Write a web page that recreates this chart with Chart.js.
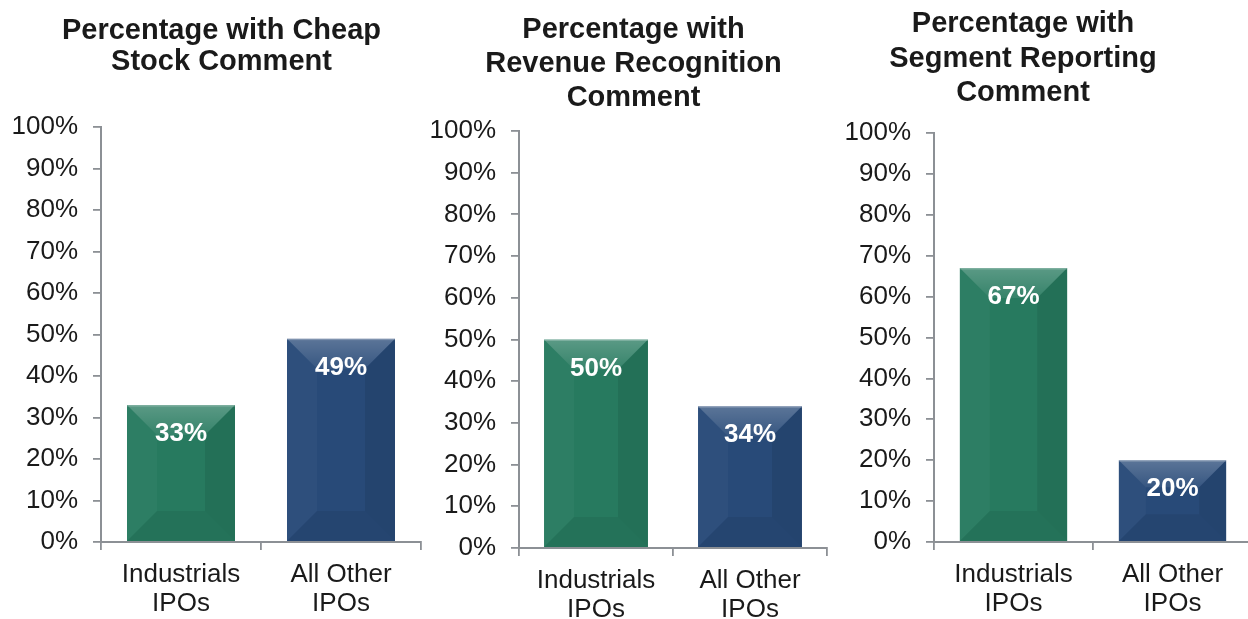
<!DOCTYPE html>
<html>
<head>
<meta charset="utf-8">
<script src="https://cdn.jsdelivr.net/npm/chart.js@4.4.1/dist/chart.umd.min.js"></script>
<style>
  html, body { margin: 0; padding: 0; background: #fff; }
  #wrap { position: relative; width: 1248px; height: 619px; overflow: hidden; background: #fff; }
  #wrap canvas { position: absolute; top: 0; }
</style>
</head>
<body>
<div id="wrap">
  <canvas id="cheap" width="443" height="619" style="left:0px"></canvas>
  <canvas id="revenue" width="427" height="619" style="left:420px"></canvas>
  <canvas id="segment" width="474" height="619" style="left:786px"></canvas>
</div>
<script>
// data
const categories = [["Industrials", "IPOs"], ["All Other", "IPOs"]];
const cheapStock = [33, 49];
const revenueRecognition = [50, 34];
const segmentReporting = [67, 20];
const cheapTitle = ["Percentage with Cheap", "Stock Comment"];
const revenueTitle = ["Percentage with", "Revenue Recognition", "Comment"];
const segmentTitle = ["Percentage with", "Segment Reporting", "Comment"];
const yMin = 0, yMax = 100, yStep = 10;

const barColors = ["#277a5f", "#284a78"];
const axisGray = "#8c9095";
const fontFamily = "'Liberation Sans', Arial, sans-serif";

// bevelled look on the bars
const bevelPlugin = {
  id: "bevel",
  afterDatasetsDraw(chart) {
    const ctx = chart.ctx;
    chart.getDatasetMeta(0).data.forEach(bar => {
      const p = bar.getProps(["x", "y", "base", "width"], true);
      const l = p.x - p.width / 2, r = p.x + p.width / 2, t = p.y, b = p.base;
      const d = Math.min(30, (b - t) / 3, p.width / 3);
      const quad = (pts, fill) => {
        ctx.beginPath();
        ctx.moveTo(pts[0][0], pts[0][1]);
        for (let k = 1; k < pts.length; k++) ctx.lineTo(pts[k][0], pts[k][1]);
        ctx.closePath();
        ctx.fillStyle = fill;
        ctx.fill();
      };
      ctx.save();
      const g = ctx.createLinearGradient(0, t, 0, t + d);
      g.addColorStop(0, "rgba(255,255,255,0.24)");
      g.addColorStop(1, "rgba(255,255,255,0.07)");
      quad([[l, t], [r, t], [r - d, t + d], [l + d, t + d]], g);
      quad([[l, b], [r, b], [r - d, b - d], [l + d, b - d]], "rgba(0,0,0,0.06)");
      quad([[r, t], [r, b], [r - d, b - d], [r - d, t + d]], "rgba(0,0,0,0.08)");
      quad([[l, t], [l, b], [l + d, b - d], [l + d, t + d]], "rgba(255,255,255,0.03)");
      ctx.fillStyle = "rgba(255,255,255,0.22)";
      ctx.fillRect(l, t, p.width, 1.5);
      ctx.restore();
    });
  }
};

// value labels inside the top of each bar
const valueLabelPlugin = {
  id: "valueLabels",
  afterDatasetsDraw(chart) {
    const ctx = chart.ctx;
    const ds = chart.data.datasets[0];
    ctx.save();
    ctx.font = "bold 26px " + fontFamily;
    ctx.fillStyle = "#ffffff";
    ctx.textAlign = "center";
    ctx.textBaseline = "middle";
    chart.getDatasetMeta(0).data.forEach((bar, i) => {
      ctx.fillText(ds.data[i] + "%", bar.x, bar.y + 29);
    });
    ctx.restore();
  }
};

function makeChart(id, title, values, geo) {
  return new Chart(document.getElementById(id), {
    type: "bar",
    data: {
      labels: categories,
      datasets: [{
        data: values,
        backgroundColor: barColors,
        borderWidth: 0,
        barPercentage: 0.675,
        categoryPercentage: 1
      }]
    },
    plugins: [bevelPlugin, valueLabelPlugin],
    options: {
      responsive: false,
      animation: false,
      layout: { padding: 0 },
      plugins: {
        legend: { display: false },
        tooltip: { enabled: false },
        title: {
          display: true,
          text: title,
          color: "#1a1a1a",
          font: { family: fontFamily, size: 29, weight: "bold", lineHeight: geo.titleLine },
          padding: { top: geo.titleTop, bottom: geo.titleBottom }
        }
      },
      scales: {
        x: {
          afterFit(scale) { scale.height = geo.xAxisH; },
          grid: {
            offset: true,
            drawOnChartArea: false,
            drawTicks: true,
            tickLength: 8,
            color: axisGray,
            lineWidth: 1.8
          },
          border: { display: true, color: axisGray, width: 2 },
          ticks: {
            color: "#1a1a1a",
            padding: 10,
            font: { family: fontFamily, size: 26, lineHeight: 1.13 },
            maxRotation: 0
          }
        },
        y: {
          min: yMin,
          max: yMax,
          afterFit(scale) { scale.width = geo.yAxisW; },
          grid: {
            drawOnChartArea: false,
            drawTicks: true,
            tickLength: 8,
            color: axisGray,
            lineWidth: 1.8
          },
          border: { display: true, color: axisGray, width: 2 },
          ticks: {
            stepSize: yStep,
            color: "#1a1a1a",
            padding: 15,
            font: { family: fontFamily, size: 26 },
            callback: v => v + "%"
          }
        },
        // empty right-hand spacer so the title stays centred on the canvas
        spacer: {
          position: "right",
          afterFit(scale) { scale.width = geo.padRight; },
          grid: { display: false },
          border: { display: false },
          ticks: { display: false }
        }
      }
    }
  });
}

makeChart("cheap", cheapTitle, cheapStock,
  { yAxisW: 101, padRight: 22, xAxisH: 77, titleLine: 31 / 29, titleTop: 15.5, titleBottom: 49.5 });
makeChart("revenue", revenueTitle, revenueRecognition,
  { yAxisW: 99, padRight: 20, xAxisH: 71, titleLine: 34 / 29, titleTop: 13, titleBottom: 16 });
makeChart("segment", segmentTitle, segmentReporting,
  { yAxisW: 148, padRight: 8, xAxisH: 77, titleLine: 34.5 / 29, titleTop: 6.75, titleBottom: 22.75 });
</script>
</body>
</html>
